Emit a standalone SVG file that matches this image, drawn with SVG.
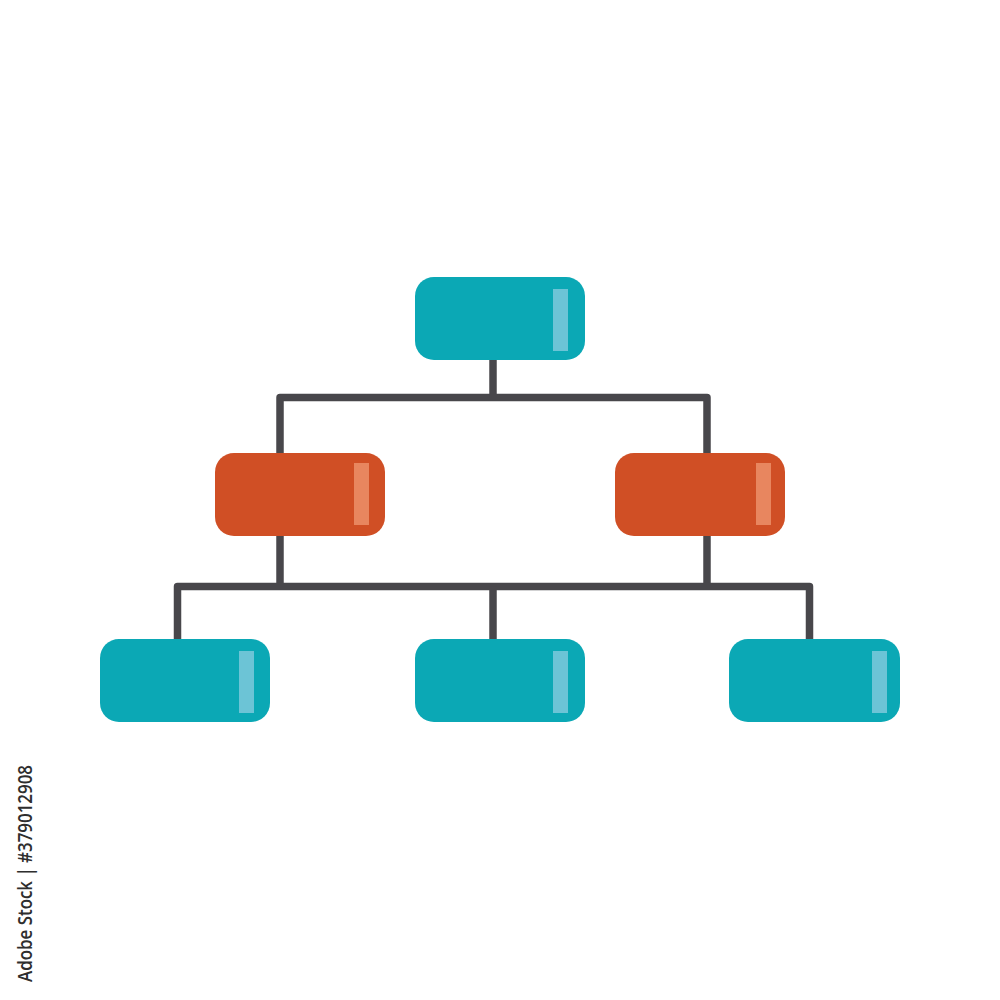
<svg xmlns="http://www.w3.org/2000/svg" width="1000" height="1000" viewBox="0 0 1000 1000">
  <style>
    .teal { fill: #0ba8b5; }
    .orange { fill: #d04f25; }
    .hl-teal { fill: #6cc4d6; }
    .hl-orange { fill: #e8865f; }
    .wire { fill: none; stroke: #48474b; stroke-width: 7.5; stroke-linejoin: round; stroke-linecap: butt; }
    .stamp { font-family: "Open Sans", "Liberation Sans", sans-serif; font-size: 20px; font-weight: 600; fill: #2e2e2e; }
  </style>
  <rect width="1000" height="1000" fill="#ffffff"/>
  <g id="connectors">
    <path class="wire" d="M493 360 V397.5"/>
    <path class="wire" d="M280 453 V397.5 H707 V453"/>
    <path class="wire" d="M280 536 V586.5"/>
    <path class="wire" d="M707 536 V586.5"/>
    <path class="wire" d="M177.5 639 V586.5 H809.5 V639"/>
    <path class="wire" d="M493 586.5 V639"/>
  </g>
  <g id="node-top">
    <rect class="teal" x="415" y="277" width="170" height="83" rx="19"/>
    <rect class="hl-teal" x="553" y="289" width="15" height="62"/>
  </g>
  <g id="node-mid-left">
    <rect class="orange" x="215" y="453" width="170" height="83" rx="19"/>
    <rect class="hl-orange" x="354" y="463" width="15" height="62"/>
  </g>
  <g id="node-mid-right">
    <rect class="orange" x="615" y="453" width="170" height="83" rx="19"/>
    <rect class="hl-orange" x="756" y="463" width="15" height="62"/>
  </g>
  <g id="node-bottom-left">
    <rect class="teal" x="100" y="639" width="170" height="83" rx="19"/>
    <rect class="hl-teal" x="239" y="651" width="15" height="62"/>
  </g>
  <g id="node-bottom-mid">
    <rect class="teal" x="415" y="639" width="170" height="83" rx="19"/>
    <rect class="hl-teal" x="553" y="651" width="15" height="62"/>
  </g>
  <g id="node-bottom-right">
    <rect class="teal" x="729" y="639" width="171" height="83" rx="19"/>
    <rect class="hl-teal" x="872" y="651" width="15" height="62"/>
  </g>
  <text class="stamp" transform="translate(32 982) rotate(-90)" textLength="217" lengthAdjust="spacingAndGlyphs">Adobe Stock | #379012908</text>
</svg>
